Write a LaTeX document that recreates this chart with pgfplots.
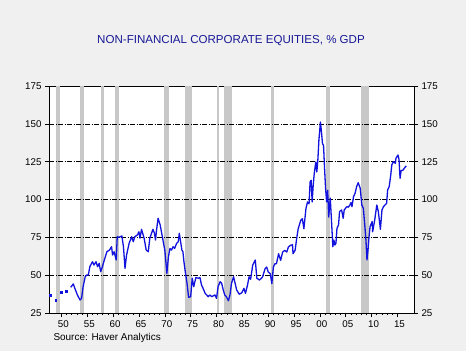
\documentclass[border=0pt]{standalone}
\usepackage{pgfplots}
\pgfplotsset{compat=1.18}
\usepackage{fontspec}
\setmainfont{Liberation Sans}
\definecolor{bgc}{RGB}{240,240,240}
\definecolor{recg}{RGB}{200,200,200}
\definecolor{linec}{RGB}{18,18,222}
\definecolor{titlec}{RGB}{25,25,150}
\begin{document}
\begin{tikzpicture}[x=1bp,y=1bp]
\fill[bgc] (0,0) rectangle (466,351);
\useasboundingbox (0,0) rectangle (466,351);
\node[titlec, font=\fontsize{11.6}{13}\selectfont] at (231,310.5) {NON-FINANCIAL CORPORATE EQUITIES, \% GDP};
\node[anchor=west, font=\fontsize{10}{12}\selectfont] at (50,12.7) {Source: Haver Analytics};
\begin{axis}[
  at={(49bp,38bp)}, anchor=south west,
  scale only axis, width=365bp, height=227bp,
  xmin=1947.6, xmax=2018.2, ymin=25, ymax=175,
  axis background/.style={fill=white},
  axis line style={line width=0.8bp},
  tick align=outside, xtick pos=bottom, ytick pos=left,
  xtick={1950,1955,...,2015},
  xticklabels={50,55,60,65,70,75,80,85,90,95,00,05,10,15},
  minor x tick num=4,
  major tick length=4bp, minor tick length=2bp,
  ytick={25,50,...,175},
  tick style={black, line width=0.6bp},
  /pgf/number format/assume math mode=true,
  ticklabel style={font=\fontsize{9.8}{11}\selectfont},
  xticklabel style={xshift=2bp},
  clip=true,
]
% recessions
\addplot[fill=recg, draw=none] coordinates {(1948.9,175)(1949.8,175)} \closedcycle;
\addplot[fill=recg, draw=none] coordinates {(1953.5,175)(1954.4,175)} \closedcycle;
\addplot[fill=recg, draw=none] coordinates {(1957.6,175)(1958.3,175)} \closedcycle;
\addplot[fill=recg, draw=none] coordinates {(1960.3,175)(1961.1,175)} \closedcycle;
\addplot[fill=recg, draw=none] coordinates {(1969.9,175)(1970.9,175)} \closedcycle;
\addplot[fill=recg, draw=none] coordinates {(1973.9,175)(1975.2,175)} \closedcycle;
\addplot[fill=recg, draw=none] coordinates {(1980.0,175)(1980.5,175)} \closedcycle;
\addplot[fill=recg, draw=none] coordinates {(1981.5,175)(1982.9,175)} \closedcycle;
\addplot[fill=recg, draw=none] coordinates {(1990.5,175)(1991.2,175)} \closedcycle;
\addplot[fill=recg, draw=none] coordinates {(2001.2,175)(2001.9,175)} \closedcycle;
\addplot[fill=recg, draw=none] coordinates {(2007.9,175)(2009.5,175)} \closedcycle;
% grid
\addplot[black, line width=0.6bp, dash pattern=on 5bp off 1.5bp on 1bp off 1.5bp] coordinates {(1947.6,50)(2018.2,50)};
\addplot[black, line width=0.6bp, dash pattern=on 5bp off 1.5bp on 1bp off 1.5bp] coordinates {(1947.6,75)(2018.2,75)};
\addplot[black, line width=0.6bp, dash pattern=on 5bp off 1.5bp on 1bp off 1.5bp] coordinates {(1947.6,100)(2018.2,100)};
\addplot[black, line width=0.6bp, dash pattern=on 5bp off 1.5bp on 1bp off 1.5bp] coordinates {(1947.6,125)(2018.2,125)};
\addplot[black, line width=0.6bp, dash pattern=on 5bp off 1.5bp on 1bp off 1.5bp] coordinates {(1947.6,150)(2018.2,150)};
% early annual points
\addplot[only marks, mark=square*, mark size=0.85bp, color=linec] coordinates {
(1947.8,36.9)(1948.9,33.6)(1949.9,38.7)(1950.9,39.5)};
% main series
\addplot[color=linec, line width=1.3bp, line join=round] coordinates {
(1951.8,42.0)(1952.3,44.2)(1952.6,41.3)(1953.1,36.9)(1953.6,33.6)(1953.9,34.7)
(1954.2,42.4)(1954.6,49.0)(1954.9,50.1)(1955.2,50.0)(1955.5,55.6)(1956.0,58.9)
(1956.3,56.7)(1956.7,58.9)(1957.0,55.6)(1957.3,57.8)(1957.6,52.3)(1957.9,55.3)
(1958.3,60.0)(1958.8,65.5)(1959.3,66.6)(1959.7,68.8)(1959.9,63.3)(1960.2,65.5)
(1960.6,60.0)(1960.8,75.4)(1961.1,75.0)(1961.7,75.9)(1962.0,68.8)(1962.3,54.5)
(1962.6,63.3)(1963.1,71.1)(1963.6,75.4)(1963.9,72.1)(1964.2,75.4)(1964.7,76.6)
(1965.0,78.7)(1965.2,74.4)(1965.5,80.3)(1966.0,74.4)(1966.4,66.6)(1966.8,65.5)
(1967.1,74.4)(1967.7,80.3)(1968.0,77.7)(1968.2,73.2)(1968.4,79.8)(1968.7,87.6)
(1969.1,83.2)(1969.4,77.7)(1969.7,72.1)(1970.0,66.6)(1970.4,51.2)(1970.7,62.2)
(1971.0,67.7)(1971.3,66.6)(1971.6,68.8)(1971.9,67.7)(1972.3,71.1)(1972.6,72.1)
(1972.8,77.7)(1973.1,71.1)(1973.3,66.6)(1973.5,65.5)(1973.7,58.9)(1974.0,51.2)
(1974.3,44.6)(1974.6,35.4)(1975.0,35.8)(1975.3,48.0)(1975.6,42.4)(1976.0,48.4)
(1976.5,48.0)(1976.8,48.4)(1977.1,43.5)(1977.4,41.3)(1977.8,38.0)(1978.1,36.9)
(1978.4,35.8)(1978.7,36.9)(1979.1,35.8)(1979.4,36.4)(1979.7,36.9)(1980.0,34.7)
(1980.3,42.4)(1980.7,45.7)(1981.0,44.6)(1981.3,40.2)(1981.6,36.9)(1981.9,35.8)
(1982.3,33.1)(1982.6,36.9)(1982.9,44.6)(1983.3,49.0)(1983.6,44.6)(1983.9,40.2)
(1984.4,37.4)(1984.9,38.4)(1985.3,41.3)(1985.6,38.0)(1986.0,43.5)(1986.3,49.0)
(1986.6,47.3)(1987.0,56.7)(1987.5,60.0)(1987.8,48.0)(1988.3,46.8)(1988.7,48.0)
(1988.9,48.8)(1989.4,54.3)(1989.7,55.4)(1990.0,52.1)(1990.4,51.0)(1990.7,44.4)
(1991.0,55.4)(1991.3,57.6)(1991.6,57.6)(1992.0,64.2)(1992.4,59.8)(1992.8,65.3)
(1993.2,66.4)(1993.6,65.3)(1993.9,68.6)(1994.3,69.7)(1994.7,70.1)(1994.8,64.2)
(1995.2,66.4)(1995.5,74.1)(1995.8,80.7)(1996.3,86.3)(1996.6,87.3)(1996.9,80.7)
(1997.3,94.0)(1997.6,98.4)(1997.9,97.2)(1998.1,111.6)(1998.3,112.7)(1998.5,98.4)
(1998.7,109.4)(1998.9,117.1)(1999.2,124.8)(1999.4,118.2)(1999.6,126.0)(1999.8,139.1)
(2000.1,151.2)(2000.3,144.6)(2000.5,136.9)(2000.7,135.8)(2000.9,120.4)(2001.1,107.1)
(2001.3,98.4)(2001.5,106.1)(2001.7,88.4)(2002.0,101.0)(2002.3,82.1)(2002.5,68.8)
(2002.7,73.2)(2002.9,69.9)(2003.1,71.1)(2003.3,81.0)(2003.6,83.2)(2003.8,92.0)
(2004.2,93.1)(2004.5,87.6)(2004.7,93.1)(2005.2,95.3)(2005.5,94.9)(2005.8,96.4)
(2006.0,97.9)(2006.2,95.3)(2006.5,101.9)(2006.8,104.1)(2007.1,108.5)(2007.4,111.1)
(2007.8,107.4)(2008.1,96.4)(2008.4,94.2)(2008.7,82.1)(2008.9,73.2)(2009.1,60.0)
(2009.3,66.6)(2009.5,75.4)(2009.7,82.1)(2010.1,85.4)(2010.2,78.7)(2010.6,86.5)
(2011.0,96.4)(2011.3,92.0)(2011.7,80.3)(2012.0,93.1)(2012.3,95.3)(2012.6,96.4)
(2012.9,97.5)(2013.1,106.3)(2013.4,108.5)(2013.7,116.2)(2013.9,122.8)(2014.2,125.0)
(2014.6,123.9)(2014.7,127.2)(2015.1,129.4)(2015.3,126.5)(2015.5,114.0)(2015.7,119.0)
(2016.1,119.5)(2016.3,120.6)(2016.7,122.2)};
\end{axis}
\begin{axis}[
  at={(49bp,38bp)}, anchor=south west,
  scale only axis, width=365bp, height=227bp,
  xmin=1947.6, xmax=2018.2, ymin=25, ymax=175,
  axis x line=none, axis y line*=right,
  axis line style={line width=0.8bp},
  tick align=outside,
  ytick={25,50,...,175},
  major tick length=4bp,
  tick style={black, line width=0.6bp},
  /pgf/number format/assume math mode=true,
  ticklabel style={font=\fontsize{9.8}{11}\selectfont},
]
\end{axis}
\end{tikzpicture}
\end{document}
